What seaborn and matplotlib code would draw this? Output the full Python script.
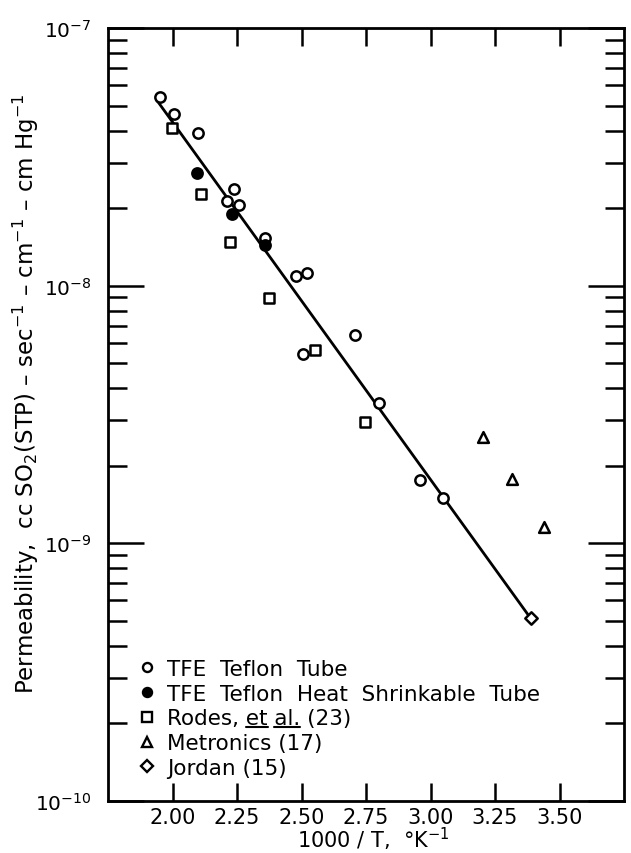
import matplotlib
matplotlib.use("Agg")
import matplotlib.pyplot as plt
import seaborn as sns
from matplotlib.lines import Line2D
from matplotlib.ticker import FixedLocator, LogFormatterSciNotation, NullFormatter

OUTPUT_IMAGE = "out.png"

# TFE Teflon tube (open circles)
tube_x = [1.95, 2.005, 2.10, 2.21, 2.239, 2.258, 2.36, 2.477, 2.52, 2.507, 2.709, 2.80, 2.958, 3.048]
tube_y = [5.39e-8, 4.64e-8, 3.91e-8, 2.14e-8, 2.38e-8, 2.05e-8, 1.53e-8, 1.09e-8, 1.12e-8,
          5.42e-9, 6.42e-9, 3.49e-9, 1.76e-9, 1.50e-9]
# TFE Teflon heat shrinkable tube (filled circles)
shrink_x = [2.094, 2.232, 2.358]
shrink_y = [2.73e-8, 1.90e-8, 1.44e-8]
# Rodes et al. (squares)
rodes_x = [1.997, 2.112, 2.222, 2.375, 2.552, 2.745]
rodes_y = [4.09e-8, 2.27e-8, 1.48e-8, 8.96e-9, 5.61e-9, 2.97e-9]
# Metronics (triangles)
metronics_x = [3.205, 3.315, 3.44]
metronics_y = [2.59e-9, 1.78e-9, 1.16e-9]
# Jordan (diamond)
jordan_x = [3.388]
jordan_y = [5.12e-10]
# fitted line
fit_x = [1.94, 3.388]
fit_y = [5.23e-8, 5.12e-10]

x_ticks = [2.00, 2.25, 2.50, 2.75, 3.00, 3.25, 3.50]
x_labels = ["2.00", "2.25", "2.50", "2.75", "3.00", "3.25", "3.50"]
y_decades = [1e-10, 1e-9, 1e-8, 1e-7]


def main():
    sns.set_theme(style="ticks")
    plt.rcParams["font.family"] = ["DejaVu Sans"]
    plt.rcParams.update({"text.color": "black", "axes.labelcolor": "black",
                         "xtick.color": "black", "ytick.color": "black"})
    fig = plt.figure(figsize=(6.31, 8.54), dpi=100)
    ax = fig.add_axes([108 / 631, 52 / 854, 516 / 631, 773 / 854])
    ax.set_yscale("log")
    ax.set_xlim(1.75, 3.75)
    ax.set_ylim(1e-10, 1e-7)

    sns.lineplot(x=fit_x, y=fit_y, color="black", lw=2, ax=ax, zorder=2)

    kw = dict(edgecolor="black", linewidth=1.8, ax=ax, zorder=3, legend=False)
    sns.scatterplot(x=tube_x, y=tube_y, marker="o", s=55, color="white", **kw)
    sns.scatterplot(x=shrink_x, y=shrink_y, marker="o", s=55, color="black", **kw)
    sns.scatterplot(x=rodes_x, y=rodes_y, marker="s", s=48, color="white", **kw)
    sns.scatterplot(x=metronics_x, y=metronics_y, marker="^", s=60, color="white", **kw)
    sns.scatterplot(x=jordan_x, y=jordan_y, marker="D", s=40, color="white", **kw)

    # ticks
    ax.xaxis.set_major_locator(FixedLocator(x_ticks))
    ax.set_xticklabels(x_labels)
    ax.yaxis.set_major_locator(FixedLocator(y_decades))
    ax.yaxis.set_major_formatter(LogFormatterSciNotation())
    minors = [m * d for d in y_decades[:-1] for m in range(2, 10)]
    ax.yaxis.set_minor_locator(FixedLocator(minors))
    ax.yaxis.set_minor_formatter(NullFormatter())
    ax.tick_params(axis="x", which="major", direction="in", length=13, width=1.8,
                   top=True, labelsize=15, pad=4)
    ax.tick_params(axis="y", which="major", direction="in", length=26, width=1.8,
                   right=True, labelsize=14.5, pad=12)
    ax.tick_params(axis="y", which="minor", direction="in", length=14, width=1.8,
                   right=True)
    for sp in ax.spines.values():
        sp.set_linewidth(2)
        sp.set_color("black")

    ax.set_xlabel("1000 / T,  °K$^{-1}$", fontsize=15)
    ax.xaxis.set_label_coords(0.514, -0.031)
    ax.set_ylabel("Permeability,  cc SO$_2$(STP) – sec$^{-1}$ – cm$^{-1}$ – cm Hg$^{-1}$",
                  fontsize=16.5)
    ax.yaxis.set_label_coords(-0.13, 0.528)

    mk = dict(color="black", lw=0, markersize=6.5, markeredgewidth=1.7, markeredgecolor="black")
    handles = [
        Line2D([], [], marker="o", markerfacecolor="white", label="TFE  Teflon  Tube", **mk),
        Line2D([], [], marker="o", markerfacecolor="black", label="TFE  Teflon  Heat  Shrinkable  Tube", **mk),
        Line2D([], [], marker="s", markerfacecolor="white", label="Rodes, et al. (23)", **mk),
        Line2D([], [], marker="^", markerfacecolor="white", label="Metronics (17)", **mk),
        Line2D([], [], marker="D", markerfacecolor="white", label="Jordan (15)", **mk),
    ]
    leg = ax.legend(handles=handles, loc="lower left", bbox_to_anchor=(0.054, 0.030),
                    frameon=False, fontsize=15.5, handlelength=1.0, handletextpad=0.45,
                    labelspacing=0.22, borderpad=0, borderaxespad=0)

    # underline "et" and "al." in the Rodes entry
    fig.canvas.draw()
    renderer = fig.canvas.get_renderer()
    txt = leg.get_texts()[2]
    bb = txt.get_window_extent(renderer)
    fp = txt.get_fontproperties()

    def width(s):
        t = fig.text(0, 0, s, fontproperties=fp)
        w = t.get_window_extent(renderer).width
        t.remove()
        return w

    y_line = bb.y0 + 1
    for full, word in [("Rodes, et", "et"), ("Rodes, et al.", "al.")]:
        x1 = bb.x0 + width(full)
        x0 = x1 - width(word)
        fig.add_artist(Line2D([x0, x1], [y_line, y_line], transform=None,
                              color="black", lw=1.5))

    fig.savefig(OUTPUT_IMAGE, dpi=100)


if __name__ == "__main__":
    main()
